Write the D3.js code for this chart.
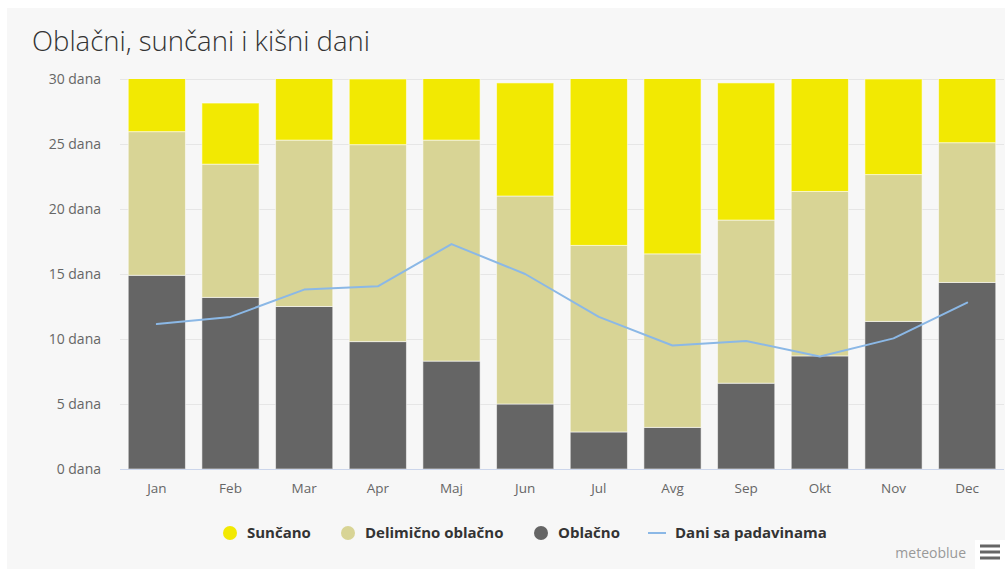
<!DOCTYPE html>
<html><head><meta charset="utf-8">
<script src="https://cdn.jsdelivr.net/npm/d3@7"></script>
<style>
html,body{margin:0;padding:0;background:#fff;}
svg{display:block;font-family:"Open Sans",sans-serif;}
</style></head>
<body>
<svg id="c" width="1005" height="569"></svg>
<script>
const months = ["Jan","Feb","Mar","Apr","Maj","Jun","Jul","Avg","Sep","Okt","Nov","Dec"];
const cloudy = [14.9, 13.2, 12.5, 9.8, 8.3, 5.0, 2.85, 3.2, 6.6, 8.7, 11.35, 14.35];
const partly = [11.05, 10.25, 12.8, 15.15, 17.0, 16.0, 14.35, 13.35, 12.55, 12.65, 11.3, 10.75];
const sunny = [5.05, 4.7, 5.7, 5.05, 5.7, 8.7, 13.8, 14.45, 10.55, 9.65, 7.35, 5.9];
const precip = [11.15, 11.7, 13.8, 14.05, 17.3, 15.0, 11.7, 9.5, 9.85, 8.65, 10.05, 12.8];
const yTicks = [0, 5, 10, 15, 20, 25, 30];
const seriesNames = ["Sunčano", "Delimično oblačno", "Oblačno", "Dani sa padavinama"];
const title = "Oblačni, sunčani i kišni dani";

const svg = d3.select("#c");
const W = 1005, H = 569;
const plot = {left: 120, right: 1004, top: 79, bottom: 469};

// panel background
svg.append("rect").attr("x", 7).attr("y", 8).attr("width", W - 7).attr("height", H - 8).attr("fill", "#f7f7f7");

svg.append("text").attr("x", 32).attr("y", 51)
  .attr("font-size", 27.5).attr("font-weight", 300).attr("fill", "#333333")
  .text(title);

const x = d3.scaleBand().domain(months).range([plot.left, plot.right]).paddingInner(0.21).paddingOuter(0.105);
const y = d3.scaleLinear().domain([0, 30]).range([plot.bottom, plot.top]);

// gridlines
svg.append("g").selectAll("line").data(yTicks.filter(t => t > 0)).join("line")
  .attr("x1", plot.left).attr("x2", plot.right)
  .attr("y1", d => Math.round(y(d)) + 0.5).attr("y2", d => Math.round(y(d)) + 0.5)
  .attr("stroke", "#e6e6e6").attr("stroke-width", 1);

// y axis labels
const yAxis = d3.axisLeft(y).tickValues(yTicks).tickSize(0).tickPadding(0).tickFormat(d => d + " dana");
const gy = svg.append("g").attr("transform", `translate(101,0)`).call(yAxis);
gy.select(".domain").remove();
gy.selectAll("text").attr("font-size", 14).attr("fill", "#666666").style("font-family", "'Open Sans', sans-serif");

// clip
svg.append("defs").append("clipPath").attr("id", "clip").append("rect")
  .attr("x", plot.left).attr("y", plot.top).attr("width", plot.right - plot.left).attr("height", plot.bottom - plot.top);

const rows = months.map((m, i) => ({m, cloudy: cloudy[i], partly: partly[i], sunny: sunny[i]}));
const keys = ["cloudy", "partly", "sunny"];
const colors = {cloudy: "#656565", partly: "#d8d495", sunny: "#f2e902"};
const stack = d3.stack().keys(keys)(rows);

const gb = svg.append("g").attr("clip-path", "url(#clip)");
stack.forEach(layer => {
  gb.append("g").selectAll("rect").data(layer).join("rect")
    .attr("x", d => x(d.data.m) + 0.5)
    .attr("width", x.bandwidth() - 1)
    .attr("y", d => y(d[1]))
    .attr("height", d => Math.max(0, y(d[0]) - y(d[1])))
    .attr("fill", colors[layer.key])
    .attr("stroke", "#ffffff").attr("stroke-opacity", 0.55).attr("stroke-width", 1);
});

// x axis line
svg.append("line").attr("x1", plot.left).attr("x2", plot.right)
  .attr("y1", plot.bottom + 0.5).attr("y2", plot.bottom + 0.5)
  .attr("stroke", "#ccd6eb").attr("stroke-width", 1);

const xAxis = d3.axisBottom(x).tickSize(0).tickPadding(0);
const gx = svg.append("g").attr("transform", `translate(0,${plot.bottom + 14})`).call(xAxis);
gx.select(".domain").remove();
gx.selectAll("text").attr("font-size", 13.5).attr("fill", "#666666").attr("dy", "0.71em").style("font-family", "'Open Sans', sans-serif");

// precipitation line
const line = d3.line().x((d, i) => x(months[i]) + x.bandwidth() / 2).y(d => y(d));
svg.append("path").datum(precip).attr("d", line)
  .attr("fill", "none").attr("stroke", "#8bb8e6").attr("stroke-width", 2)
  .attr("stroke-linejoin", "round").attr("stroke-linecap", "round");

// legend
const legend = [
  {name: seriesNames[0], type: "dot", color: colors.sunny, x: 230},
  {name: seriesNames[1], type: "dot", color: colors.partly, x: 348},
  {name: seriesNames[2], type: "dot", color: colors.cloudy, x: 541},
  {name: seriesNames[3], type: "line", color: "#8bb8e6", x: 648}
];
const gl = svg.append("g");
legend.forEach(l => {
  if (l.type === "dot") {
    gl.append("circle").attr("cx", l.x).attr("cy", 533).attr("r", 7).attr("fill", l.color);
    gl.append("text").attr("x", l.x + 17).attr("y", 533).attr("dy", "0.35em")
      .attr("font-size", 15).attr("font-weight", 700).attr("fill", "#333333").text(l.name);
  } else {
    gl.append("line").attr("x1", l.x).attr("x2", l.x + 18).attr("y1", 533).attr("y2", 533)
      .attr("stroke", l.color).attr("stroke-width", 2);
    gl.append("text").attr("x", l.x + 27).attr("y", 533).attr("dy", "0.35em")
      .attr("font-size", 15).attr("font-weight", 700).attr("fill", "#333333").text(l.name);
  }
});

// credits
svg.append("text").attr("x", 966).attr("y", 558).attr("text-anchor", "end")
  .attr("font-size", 14).attr("fill", "#999999").text("meteoblue");
svg.append("rect").attr("x", 975).attr("y", 540).attr("width", 30).attr("height", 29).attr("fill", "#ffffff");
[546, 552, 558].forEach(yy => {
  svg.append("rect").attr("x", 980).attr("y", yy - 1.5).attr("width", 20).attr("height", 3).attr("fill", "#666666");
});
</script>
</body></html>
